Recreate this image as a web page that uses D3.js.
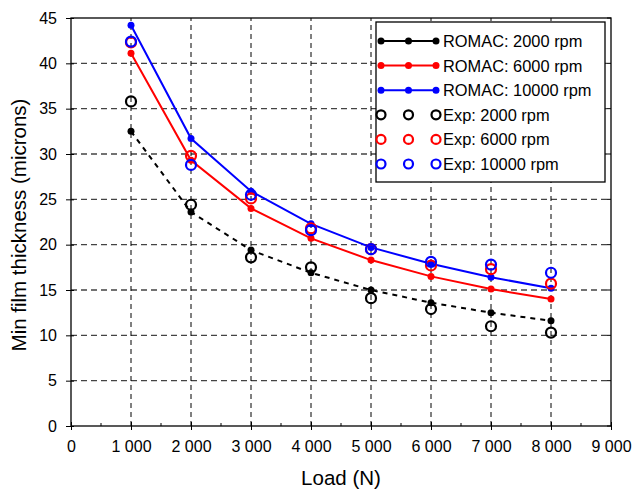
<!DOCTYPE html>
<html>
<head>
<meta charset="utf-8">
<script src="https://cdn.jsdelivr.net/npm/d3@7"></script>
<style>
  body { margin: 0; background: #fff; }
  svg { font-family: Arial, "Liberation Sans", sans-serif; }
</style>
</head>
<body>
<div id="chart"></div>
<script>
// loads in N
const loads = [1000, 2000, 3000, 4000, 5000, 6000, 7000, 8000]

// ROMAC predictions (microns)
const romac2000 = [32.5, 23.6, 19.4, 16.9, 15.0, 13.6, 12.5, 11.6]
const romac6000 = [41.1, 29.3, 24.0, 20.7, 18.3, 16.5, 15.1, 14.0]
const romac10000 = [44.2, 31.7, 25.9, 22.3, 19.7, 17.9, 16.4, 15.2]

// experiment (microns)
const exp2000 = [35.8, 24.4, 18.6, 17.5, 14.1, 12.9, 11.0, 10.3]
const exp6000 = [42.3, 29.8, 25.1, 21.8, 19.5, 17.7, 17.3, 15.7]
const exp10000 = [42.4, 28.8, 25.5, 21.6, 19.5, 18.1, 17.8, 16.9]

const xTicks = [0, 1000, 2000, 3000, 4000, 5000, 6000, 7000, 8000, 9000]
const yTicks = [0, 5, 10, 15, 20, 25, 30, 35, 40, 45]

const W = 632, H = 489
const margin = { left: 71, right: 21, top: 18, bottom: 63 }

const svg = d3.select('#chart').append('svg').attr('width', W).attr('height', H)

const x = d3.scaleLinear().domain([0, 9000]).range([margin.left, W - margin.right])
const y = d3.scaleLinear().domain([0, 45]).range([H - margin.bottom, margin.top])

// grid
svg.append('g')
  .selectAll('line')
  .data(yTicks.slice(1, -1))
  .join('line')
  .attr('x1', x(0)).attr('x2', x(9000))
  .attr('y1', d => y(d)).attr('y2', d => y(d))
  .attr('stroke', '#444').attr('stroke-width', 1.3)
  .attr('stroke-dasharray', '6,4')

svg.append('g')
  .selectAll('line')
  .data(xTicks.slice(1, -1))
  .join('line')
  .attr('x1', d => x(d)).attr('x2', d => x(d))
  .attr('y1', y(0)).attr('y2', y(45))
  .attr('stroke', '#000').attr('stroke-width', 1)
  .attr('stroke-dasharray', '5,4')

// frame
svg.append('rect')
  .attr('x', x(0)).attr('y', y(45))
  .attr('width', x(9000) - x(0)).attr('height', y(0) - y(45))
  .attr('fill', 'none').attr('stroke', '#000').attr('stroke-width', 1.3)

// axes
const xAxis = svg.append('g').attr('transform', `translate(0,${y(0)})`)
  .call(d3.axisBottom(x).tickValues(xTicks).tickFormat(d => d === 0 ? '0' : (d / 1000) + ' 000').tickSizeInner(4).tickSizeOuter(0))
xAxis.select('.domain').remove()
xAxis.selectAll('.tick line').attr('y1', -4).attr('y2', 4).attr('stroke-width', 1)
xAxis.selectAll('.tick text').attr('y', 15).attr('font-size', 16).attr('font-family', 'Arial, "Liberation Sans", sans-serif')

// minor x ticks
svg.append('g')
  .selectAll('line')
  .data(d3.range(500, 9000, 1000))
  .join('line')
  .attr('x1', d => x(d)).attr('x2', d => x(d))
  .attr('y1', y(0)).attr('y2', y(0) - 3)
  .attr('stroke', '#000')

const yAxis = svg.append('g').attr('transform', `translate(${x(0)},0)`)
  .call(d3.axisLeft(y).tickValues(yTicks).tickSizeInner(4).tickSizeOuter(0))
yAxis.select('.domain').remove()
yAxis.selectAll('.tick line').attr('x1', -5).attr('x2', 3)
yAxis.selectAll('.tick text').attr('x', -14).attr('font-size', 16).attr('font-family', 'Arial, "Liberation Sans", sans-serif')

// right ticks
svg.append('g')
  .selectAll('line')
  .data(yTicks)
  .join('line')
  .attr('x1', x(9000)).attr('x2', x(9000) - 4)
  .attr('y1', d => y(d)).attr('y2', d => y(d))
  .attr('stroke', '#000')

// axis titles
svg.append('text')
  .attr('x', (x(0) + x(9000)) / 2).attr('y', 485)
  .attr('text-anchor', 'middle').attr('font-size', 20.5)
  .text('Load (N)')

svg.append('text')
  .attr('transform', `translate(26,${(y(0) + y(45)) / 2 + 3}) rotate(-90)`)
  .attr('text-anchor', 'middle').attr('font-size', 20.5)
  .text('Min film thickness (microns)')

// series
const line = d3.line().x(d => x(d[0])).y(d => y(d[1]))
const romac = [
  { vals: romac2000, color: '#000', dash: '5,5', label: 'ROMAC: 2000 rpm' },
  { vals: romac6000, color: '#ff0000', dash: null, label: 'ROMAC: 6000 rpm' },
  { vals: romac10000, color: '#0000ff', dash: null, label: 'ROMAC: 10000 rpm' }
]
const exps = [
  { vals: exp2000, color: '#000', label: 'Exp: 2000 rpm' },
  { vals: exp6000, color: '#ff0000', label: 'Exp: 6000 rpm' },
  { vals: exp10000, color: '#0000ff', label: 'Exp: 10000 rpm' }
]

romac.forEach(s => {
  const pts = loads.map((l, i) => [l, s.vals[i]])
  svg.append('path')
    .attr('d', line(pts))
    .attr('fill', 'none').attr('stroke', s.color).attr('stroke-width', 2)
    .attr('stroke-dasharray', s.dash)
  svg.append('g').selectAll('circle').data(pts).join('circle')
    .attr('cx', d => x(d[0])).attr('cy', d => y(d[1])).attr('r', 3.5)
    .attr('fill', s.color)
})

exps.forEach(s => {
  const pts = loads.map((l, i) => [l, s.vals[i]])
  svg.append('g').selectAll('circle').data(pts).join('circle')
    .attr('cx', d => x(d[0])).attr('cy', d => y(d[1])).attr('r', 5)
    .attr('fill', 'none').attr('stroke', s.color).attr('stroke-width', 2.2)
})

// legend
const lg = svg.append('g')
lg.append('rect')
  .attr('x', 376).attr('y', 22).attr('width', 229).attr('height', 160)
  .attr('fill', '#fff').attr('stroke', '#000').attr('stroke-width', 1.3)

const rowY = i => 41 + i * 24.6
romac.forEach((s, i) => {
  const g = lg.append('g')
  g.append('line').attr('x1', 381).attr('x2', 436).attr('y1', rowY(i)).attr('y2', rowY(i))
    .attr('stroke', s.color).attr('stroke-width', 2)
  g.selectAll('circle').data([381, 408.5, 436]).join('circle')
    .attr('cx', d => d).attr('cy', rowY(i)).attr('r', 3.5).attr('fill', s.color)
  g.append('text').attr('x', 443).attr('y', rowY(i) + 6).attr('font-size', 16.4).text(s.label)
})
exps.forEach((s, j) => {
  const i = j + 3
  const g = lg.append('g')
  g.selectAll('circle').data([381, 408.5, 436]).join('circle')
    .attr('cx', d => d).attr('cy', rowY(i)).attr('r', 4.5)
    .attr('fill', 'none').attr('stroke', s.color).attr('stroke-width', 2.2)
  g.append('text').attr('x', 443).attr('y', rowY(i) + 6).attr('font-size', 16.4).text(s.label)
})
</script>
</body>
</html>
